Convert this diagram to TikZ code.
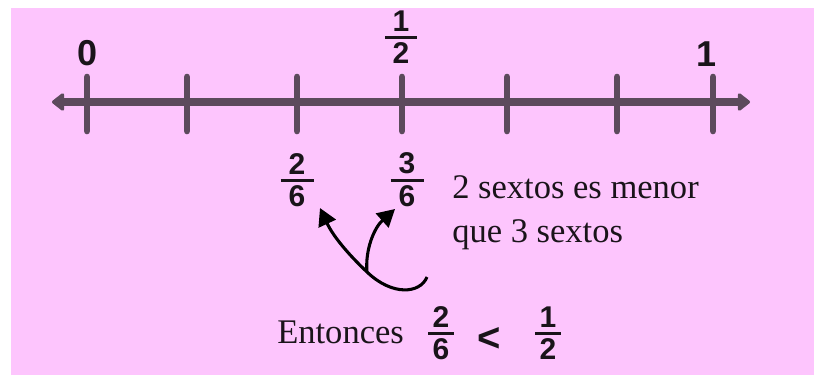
\documentclass[tikz,border=0pt]{standalone}
\usepackage{fontspec}
\setmainfont{Liberation Serif}
\newfontfamily\digitfont{Liberation Sans}
\usetikzlibrary{arrows.meta}
\definecolor{bgpink}{RGB}{253,197,253}
\definecolor{axiscol}{RGB}{92,74,92}
\definecolor{inkcol}{RGB}{26,20,26}
\newcommand\fracstack[3]{\vbox{\offinterlineskip\halign{\hfil##\hfil\cr
  #2\cr\noalign{\kern0.16em}
  \rule{#1}{0.1em}\cr\noalign{\kern0.12em}
  #3\cr}}}
\tikzset{
  axisline/.style={line width=6pt, draw=axiscol, {Triangle[length=10pt,width=15pt,round]}-{Triangle[length=10pt,width=15pt,round]}},
  tickmark/.style={line width=5pt, draw=axiscol, line cap=round},
  bignum/.style={inner sep=0pt, text=inkcol, font=\digitfont\bfseries\fontsize{27}{31}\selectfont},
  fracnode/.style={inner sep=0pt, text=inkcol, font=\digitfont\bfseries\fontsize{22.5}{26}\selectfont},
  relnode/.style={inner sep=0pt, text=inkcol, font=\digitfont\bfseries\fontsize{30}{34}\selectfont},
  serifnote/.style={inner sep=0pt, text=inkcol, font=\fontsize{25.9}{30}\selectfont},
  curvearrow/.style={line width=2.3pt, draw=black, -{Triangle[length=13pt,width=14pt]}}
}
\begin{document}
\begin{tikzpicture}[x=0.75pt,y=-0.75pt]
\useasboundingbox (0,0) rectangle (819,375);
\fill[bgpink] (11,8) rectangle (814,375);
% axis
\coordinate (axL) at (52,102);
\coordinate (axR) at (750,102);
\draw[axisline] (axL) -- (axR);
\foreach \i/\x in {0/87,1/187,2/297,3/402,4/507,5/617,6/713}{
  \coordinate (tt\i) at (\x,77);
  \coordinate (tb\i) at (\x,131);
  \draw[tickmark] (tt\i) -- (tb\i);
}
% labels above
\node[bignum] (zero) at (88,53) {0};
\node[bignum] (one) at (707,54) {1};
\node[fracnode] (half) at (401,37) {\fracstack{1.05em}{1}{2}};
% fractions below
\node[fracnode] (twosix) at (297,180) {\fracstack{1.1em}{2}{6}};
\node[fracnode] (threesix) at (407,180) {\fracstack{1.1em}{3}{6}};
% note text
\node[serifnote, anchor=base west] (note1) at (452,198) {2 sextos es menor};
\node[serifnote, anchor=base west] (note2) at (452,242) {que 3 sextos};
% curved arrows
\coordinate (cstart) at (427,277);
\coordinate (cmid) at (367,272);
\coordinate (tipL) at (320,208);
\coordinate (tipR) at (395,209);
\draw[curvearrow] (cstart) .. controls (420,294) and (392,296) .. (cmid) .. controls (348,254) and (333,236) .. (tipL);
\draw[curvearrow] (cmid) .. controls (365,250) and (374,228) .. (tipR);
% conclusion
\node[serifnote, anchor=base west] (entonces) at (277,343) {Entonces};
\node[fracnode] (ftwosix) at (441,333) {\fracstack{0.85em}{2}{6}};
\node[relnode] (lessthan) at (489,339) {<};
\node[fracnode] (fhalf) at (548,333) {\fracstack{0.85em}{1}{2}};
\end{tikzpicture}
\end{document}
